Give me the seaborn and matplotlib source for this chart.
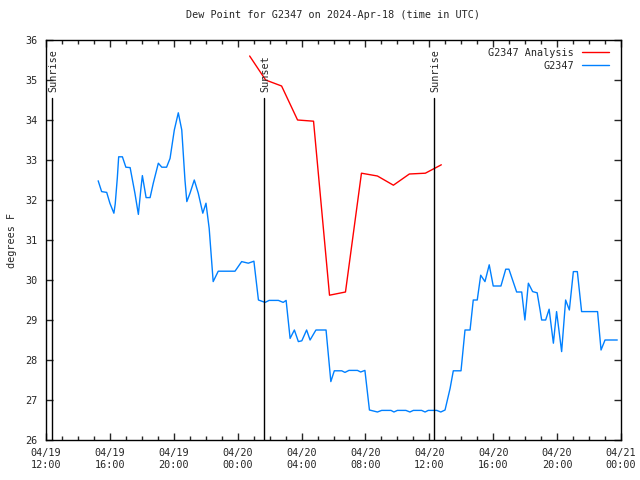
import matplotlib
matplotlib.use("Agg")
import matplotlib.pyplot as plt
import matplotlib.dates as mdates
import pandas as pd
import seaborn as sns

# ---- data ----
obs_times = [
    "2024-04-19 15:16", "2024-04-19 15:29", "2024-04-19 15:48", "2024-04-19 16:00",
    "2024-04-19 16:15", "2024-04-19 16:20", "2024-04-19 16:28", "2024-04-19 16:33",
    "2024-04-19 16:47", "2024-04-19 17:00", "2024-04-19 17:16", "2024-04-19 17:34",
    "2024-04-19 17:47", "2024-04-19 17:56", "2024-04-19 18:02", "2024-04-19 18:16",
    "2024-04-19 18:31", "2024-04-19 18:43", "2024-04-19 19:02", "2024-04-19 19:15",
    "2024-04-19 19:33", "2024-04-19 19:46", "2024-04-19 20:02", "2024-04-19 20:17",
    "2024-04-19 20:30", "2024-04-19 20:42", "2024-04-19 20:49", "2024-04-19 21:01",
    "2024-04-19 21:17", "2024-04-19 21:32", "2024-04-19 21:49", "2024-04-19 22:01",
    "2024-04-19 22:13", "2024-04-19 22:28", "2024-04-19 22:47", "2024-04-19 23:50",
    "2024-04-20 00:15", "2024-04-20 00:40", "2024-04-20 01:01", "2024-04-20 01:18",
    "2024-04-20 01:43", "2024-04-20 01:58", "2024-04-20 02:33", "2024-04-20 02:51",
    "2024-04-20 03:02", "2024-04-20 03:17", "2024-04-20 03:33", "2024-04-20 03:48",
    "2024-04-20 04:01", "2024-04-20 04:19", "2024-04-20 04:32", "2024-04-20 04:54",
    "2024-04-20 05:32", "2024-04-20 05:50", "2024-04-20 06:03", "2024-04-20 06:31",
    "2024-04-20 06:43", "2024-04-20 06:58", "2024-04-20 07:30", "2024-04-20 07:42",
    "2024-04-20 07:58", "2024-04-20 08:15", "2024-04-20 08:45", "2024-04-20 09:01",
    "2024-04-20 09:36", "2024-04-20 09:47", "2024-04-20 10:00", "2024-04-20 10:32",
    "2024-04-20 10:47", "2024-04-20 11:00", "2024-04-20 11:31", "2024-04-20 11:44",
    "2024-04-20 11:56", "2024-04-20 12:28", "2024-04-20 12:43", "2024-04-20 12:59",
    "2024-04-20 13:18", "2024-04-20 13:30", "2024-04-20 13:59", "2024-04-20 14:14",
    "2024-04-20 14:33", "2024-04-20 14:45", "2024-04-20 15:00", "2024-04-20 15:13",
    "2024-04-20 15:29", "2024-04-20 15:45", "2024-04-20 16:00", "2024-04-20 16:29",
    "2024-04-20 16:47", "2024-04-20 16:59", "2024-04-20 17:28", "2024-04-20 17:47",
    "2024-04-20 17:59", "2024-04-20 18:12", "2024-04-20 18:28", "2024-04-20 18:45",
    "2024-04-20 18:56", "2024-04-20 19:02", "2024-04-20 19:17", "2024-04-20 19:30",
    "2024-04-20 19:46", "2024-04-20 19:58", "2024-04-20 20:17", "2024-04-20 20:32",
    "2024-04-20 20:46", "2024-04-20 21:01", "2024-04-20 21:16", "2024-04-20 21:32",
    "2024-04-20 22:32", "2024-04-20 22:45", "2024-04-20 23:00", "2024-04-20 23:46",
]
obs_dewpt = [
    32.48, 32.21, 32.19, 31.92,
    31.67, 31.90, 32.56, 33.08,
    33.08, 32.82, 32.81, 32.17,
    31.64, 32.25, 32.61, 32.06,
    32.06, 32.42, 32.92, 32.82,
    32.82, 33.04, 33.75, 34.18,
    33.75, 32.50, 31.96, 32.17,
    32.50, 32.17, 31.67, 31.92,
    31.29, 29.96, 30.22, 30.22,
    30.46, 30.42, 30.47, 29.50,
    29.44, 29.49, 29.49, 29.44,
    29.49, 28.54, 28.75, 28.46,
    28.48, 28.75, 28.50, 28.75,
    28.75, 27.46, 27.73, 27.73,
    27.69, 27.74, 27.74, 27.70,
    27.74, 26.75, 26.70, 26.74,
    26.74, 26.70, 26.74, 26.74,
    26.70, 26.74, 26.74, 26.70,
    26.74, 26.74, 26.70, 26.75,
    27.29, 27.73, 27.73, 28.75,
    28.75, 29.50, 29.50, 30.12,
    29.96, 30.38, 29.85, 29.85,
    30.27, 30.27, 29.70, 29.70,
    29.00, 29.92, 29.71, 29.68,
    29.25, 29.00, 29.00, 29.27,
    28.42, 29.21, 28.21, 29.50,
    29.25, 30.21, 30.21, 29.21,
    29.21, 28.25, 28.50, 28.50,
]

ana_times = [
    "2024-04-20 00:45", "2024-04-20 01:45", "2024-04-20 02:45", "2024-04-20 03:45",
    "2024-04-20 04:45", "2024-04-20 05:45", "2024-04-20 06:45", "2024-04-20 07:45",
    "2024-04-20 08:45", "2024-04-20 09:45", "2024-04-20 10:45", "2024-04-20 11:45",
    "2024-04-20 12:45",
]
ana_dewpt = [35.60, 35.00, 34.85, 34.00, 33.97, 29.62, 29.70, 32.67,
             32.60, 32.37, 32.65, 32.67, 32.88]

sun_events = ["Sunrise", "Sunset", "Sunrise"]
sun_times = ["2024-04-19 12:22", "2024-04-20 01:39", "2024-04-20 12:18"]

x_start = "2024-04-19 12:00"
x_end = "2024-04-21 00:00"
y_min, y_max = 26, 36

title = "Dew Point for G2347 on 2024-Apr-18 (time in UTC)"
ylabel = "degrees F"
ana_label = "G2347 Analysis"
obs_label = "G2347"

# ---- style ----
FS = 7.3
sns.set_style("ticks")
plt.rcParams["font.family"] = ["DejaVu Sans Mono", "DejaVu Sans"]
plt.rcParams["font.size"] = FS

obs = pd.DataFrame({"time": pd.to_datetime(obs_times), "dewpt": obs_dewpt})
ana = pd.DataFrame({"time": pd.to_datetime(ana_times), "dewpt": ana_dewpt})

fig = plt.figure(figsize=(6.4, 4.8), dpi=100)
ax = fig.add_axes([46 / 640, 40 / 480, 575 / 640, 400 / 480])

sns.lineplot(data=ana, x="time", y="dewpt", ax=ax, color="#ff0000",
             linewidth=1.0, label=ana_label)
sns.lineplot(data=obs, x="time", y="dewpt", ax=ax, color="#0080ff",
             linewidth=1.0, label=obs_label)

line_top = 34.55
for name, t in zip(sun_events, sun_times):
    tt = pd.to_datetime(t)
    ax.plot([tt, tt], [y_min, line_top], color="black", linewidth=1.0)
    ax.text(tt + pd.Timedelta(minutes=5), line_top + 0.15, name, rotation=90,
            ha="center", va="bottom", fontsize=FS)

ax.set_xlim(pd.to_datetime(x_start), pd.to_datetime(x_end))
ax.set_ylim(y_min, y_max)
ax.set_yticks(range(y_min, y_max + 1))
ax.xaxis.set_major_locator(mdates.HourLocator(byhour=[0, 4, 8, 12, 16, 20]))
ax.xaxis.set_minor_locator(mdates.HourLocator())
ax.xaxis.set_major_formatter(mdates.DateFormatter("%m/%d\n%H:%M"))

ax.tick_params(axis="both", which="major", direction="in", length=5, width=1,
               top=True, right=True, labelsize=FS, pad=6)
ax.tick_params(axis="x", which="minor", direction="in", length=3, width=1,
               top=True, bottom=True)
for s in ax.spines.values():
    s.set_linewidth(1.0)
    s.set_color("black")

ax.set_xlabel("")
ax.set_ylabel(ylabel, fontsize=FS, labelpad=6)
ax.set_title(title, fontsize=FS, pad=16)

ax.legend(loc="upper right", frameon=False, markerfirst=False,
          handlelength=2.7, fontsize=FS, borderaxespad=0.35,
          labelspacing=0.3, handletextpad=0.8,
          bbox_to_anchor=(0.993, 1.0))

fig.savefig("out.png", dpi=100)
